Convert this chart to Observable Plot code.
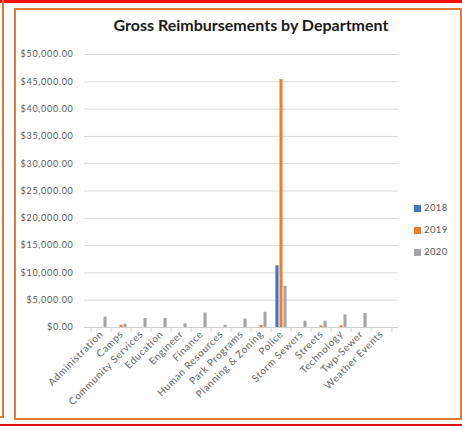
<!DOCTYPE html>
<html>
<head>
<meta charset="utf-8">
<script src="https://cdn.jsdelivr.net/npm/d3@7"></script>
<script src="https://cdn.jsdelivr.net/npm/@observablehq/plot@0.6"></script>
<style>
  html, body { margin: 0; padding: 0; background: #fff; }
  #wrap { position: relative; width: 462px; height: 426px; overflow: hidden; font-family: Lato, "Open Sans", sans-serif; }
  .deco { position: absolute; box-sizing: border-box; }
  #title { position: absolute; left: 0; width: 462px; top: 15px; text-align: center; padding-left: 40px; box-sizing: border-box;
           font: bold 16px Lato, "Open Sans", sans-serif; color: #1a1a1a; }
  #chart { position: absolute; left: 0; top: 0; }
  #chart g[aria-label="x-axis tick label"] text { letter-spacing: 0.6px; }
  #chart g[aria-label="y-axis tick label"] text { letter-spacing: 0.7px; }
  #legend { position: absolute; left: 414px; top: 202px; font: 9.5px Lato, "Open Sans", sans-serif; color: #595959; letter-spacing: 0.4px; }
  #legend div { height: 22px; display: flex; align-items: flex-start; }
  #legend span.sw { display: inline-block; width: 7px; height: 7px; margin: 3px 3px 0 0; }
</style>
</head>
<body>
<div id="wrap">
  <div class="deco" style="left:0;top:0;width:462px;height:3px;background:#f01010"></div>
  <div class="deco" style="left:-10px;top:-10px;width:14px;height:428px;border-right:2px solid #e07a35;border-bottom:2px solid #e07a35"></div>
  <div class="deco" style="left:14px;top:8px;width:448px;height:412px;border:2px solid #e07a35"></div>
  <div class="deco" style="left:0;top:424px;width:462px;height:2px;background:#e01010"></div>
  <div id="chart"></div>
  <div id="title">Gross Reimbursements by Department</div>
  <div id="legend"></div>
</div>
<script>
const departments = ["Administration", "Camps", "Community Services", "Education", "Engineer", "Finance",
  "Human Resources", "Park Programs", "Planning & Zoning", "Police", "Storm Sewers", "Streets",
  "Technology", "Twp-Sewer", "Weather Events"];
const years = ["2018", "2019", "2020"];
const colors = ["#4472C4", "#ED7D31", "#A5A5A5"];
const values2018 = [0, 0, 0, 0, 0, 0, 0, 0, 0, 11300, 0, 0, 0, 0, 0];
const values2019 = [0, 400, 0, 0, 0, 0, 0, 0, 350, 45400, 0, 300, 300, 0, 0];
const values2020 = [1900, 600, 1650, 1650, 650, 2650, 400, 1550, 2800, 7550, 1150, 1150, 2300, 2550, 0];
const yTicks = [0, 5000, 10000, 15000, 20000, 25000, 30000, 35000, 40000, 45000, 50000];

const series = [values2018, values2019, values2020];
const data = [];
departments.forEach((d, i) => years.forEach((y, j) => data.push({dept: d, year: y, value: series[j][i]})));

const W = 462, H = 426, mL = 84, mR = 64, mT = 54, mB = 99;
const bw = (W - mL - mR) / departments.length;
const barW = bw / 5.19;
const last = departments[departments.length - 1];

const marks = [
  Plot.gridY(yTicks, {stroke: "#d9d9d9", strokeOpacity: 1, strokeWidth: 1}),
  Plot.axisY(yTicks, {tickSize: 0, tickPadding: 11, tickFormat: d3.format("$,.2f"), fontSize: 9, fill: "#595959", label: null}),
  ...years.map((y, j) => Plot.barY(data.filter(d => d.year === y), {
    x: "dept", y: "value", fill: colors[j],
    insetLeft: (bw - barW) / 2, insetRight: (bw - barW) / 2, dx: (j - 1) * barW
  })),
  Plot.ruleY([0], {stroke: "#d0d0d0"}),
  Plot.axisX({tickSize: 5, tickFormat: () => "", dx: -bw / 2, stroke: "#d0d0d0", label: null}),
  Plot.axisX([last], {tickSize: 5, tickFormat: () => "", dx: bw / 2, stroke: "#d0d0d0", label: null}),
  Plot.axisX({tickSize: 0, tickRotate: -45, tickPadding: 5, fontSize: 10, fill: "#666666", label: null})
];

const chart = Plot.plot({
  width: W, height: H,
  marginLeft: mL, marginRight: mR, marginTop: mT, marginBottom: mB,
  style: {background: "transparent", fontFamily: "Lato, 'Open Sans', sans-serif"},
  x: {type: "band", domain: departments, padding: 0},
  y: {domain: [0, 50000]},
  marks
});
document.getElementById("chart").appendChild(chart);

const legend = document.getElementById("legend");
years.forEach((y, j) => {
  const row = document.createElement("div");
  row.innerHTML = `<span class="sw" style="background:${colors[j]}"></span><span>${y}</span>`;
  legend.appendChild(row);
});
</script>
</body>
</html>
